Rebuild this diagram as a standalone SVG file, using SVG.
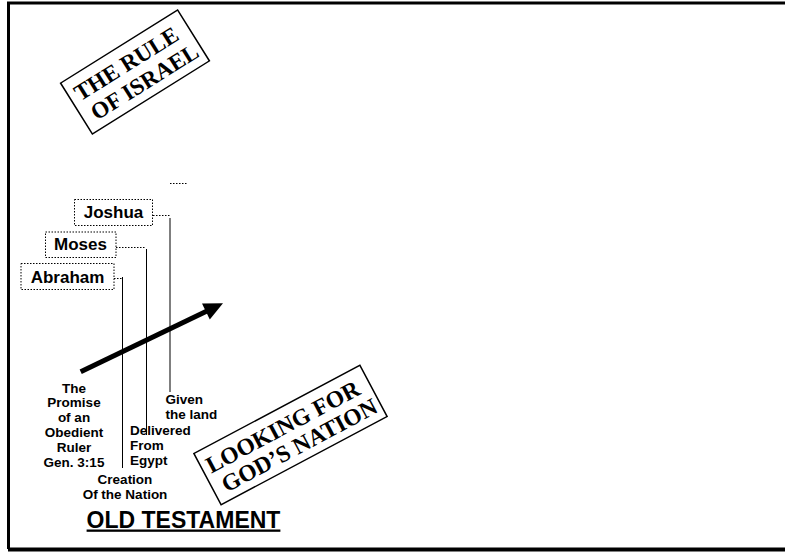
<svg xmlns="http://www.w3.org/2000/svg" width="785" height="552" viewBox="0 0 785 552">
<style>
.frame{stroke:#000;stroke-width:3;fill:none}
.nodebox{fill:#fff;stroke:#000;stroke-width:1;stroke-dasharray:1.5,1.5}
.nodetxt{font-family:"Liberation Sans",Arial,sans-serif;font-weight:bold;font-size:17px;text-anchor:middle;fill:#000}
.lbl{font-family:"Liberation Sans",Arial,sans-serif;font-weight:bold;font-size:13.5px;fill:#000}
.stamp{fill:#fff;stroke:#000;stroke-width:1.5}
.stamptxt{font-family:"Liberation Serif","Times New Roman",serif;font-weight:bold;text-anchor:middle;fill:#000}
.dot{stroke:#000;stroke-width:1;stroke-dasharray:1.5,1.5;fill:none}
.vline{stroke:#000;stroke-width:1;fill:none}
</style>
<rect width="785" height="552" fill="#fff"/>
<g id="frame">
<line class="frame" x1="7" y1="3" x2="785" y2="3"/>
<line class="frame" x1="8.5" y1="2" x2="8.5" y2="549"/>
<line x1="8" y1="549.5" x2="785" y2="549.5" stroke="#000" stroke-width="4"/>
</g>
<g id="rule-of-israel" transform="translate(135,72) rotate(-32)">
<rect class="stamp" x="-69" y="-30" width="138" height="60"/>
<text class="stamptxt" x="-3" y="-4" font-size="23">THE RULE</text>
<text class="stamptxt" x="3" y="21" font-size="23">OF ISRAEL</text>
</g>
<g id="looking" transform="translate(290.5,435) rotate(-28)">
<rect class="stamp" x="-94" y="-29" width="188" height="58"/>
<text class="stamptxt" x="-3" y="-3" font-size="23.5">LOOKING FOR</text>
<text class="stamptxt" x="3" y="21" font-size="23.5">GOD’S NATION</text>
</g>
<g id="connectors">
<line class="dot" x1="153" y1="215.5" x2="170" y2="215.5"/>
<line x1="170" y1="218" x2="170" y2="392" stroke="#555" stroke-width="1.5"/>
<line class="dot" x1="116" y1="247.5" x2="146" y2="247.5"/>
<line class="vline" x1="146.5" y1="249" x2="146.5" y2="435"/>
<line class="dot" x1="114" y1="278.5" x2="123" y2="278.5"/>
<line class="vline" x1="122.5" y1="277" x2="122.5" y2="468"/>
<line class="dot" x1="170" y1="183.5" x2="187" y2="183.5"/>
</g>
<g id="joshua">
<rect class="nodebox" x="74.5" y="199.5" width="78" height="26"/>
<text class="nodetxt" x="113.5" y="218">Joshua</text>
</g>
<g id="moses">
<rect class="nodebox" x="45.5" y="232" width="70.5" height="25.5"/>
<text class="nodetxt" x="80.5" y="250">Moses</text>
</g>
<g id="abraham">
<rect class="nodebox" x="21" y="263.5" width="93" height="26"/>
<text class="nodetxt" x="67.5" y="283">Abraham</text>
</g>
<g id="arrow">
<line x1="80.7" y1="371.7" x2="207" y2="311" stroke="#000" stroke-width="5"/>
<polygon points="223,303.3 209.8,319.6 202,303.4" fill="#000"/>
</g>
<g id="labels">
<text class="lbl" text-anchor="middle" x="74" y="392.5">The</text>
<text class="lbl" text-anchor="middle" x="74" y="407">Promise</text>
<text class="lbl" text-anchor="middle" x="74" y="422">of an</text>
<text class="lbl" text-anchor="middle" x="74" y="437">Obedient</text>
<text class="lbl" text-anchor="middle" x="74" y="452">Ruler</text>
<text class="lbl" text-anchor="middle" x="74" y="467">Gen. 3:15</text>
<text class="lbl" text-anchor="middle" x="125" y="483.5">Creation</text>
<text class="lbl" text-anchor="middle" x="125" y="498.5">Of the Nation</text>
<text class="lbl" x="130" y="435">Delivered</text>
<text class="lbl" x="130" y="450">From</text>
<text class="lbl" x="130" y="465">Egypt</text>
<text class="lbl" x="165.5" y="404">Given</text>
<text class="lbl" x="165.5" y="419">the land</text>
</g>
<g id="title">
<text x="183.5" y="527.5" font-family="'Liberation Sans',Arial,sans-serif" font-weight="bold" font-size="23" text-anchor="middle" text-decoration="underline" fill="#000">OLD TESTAMENT</text>
</g>
</svg>
